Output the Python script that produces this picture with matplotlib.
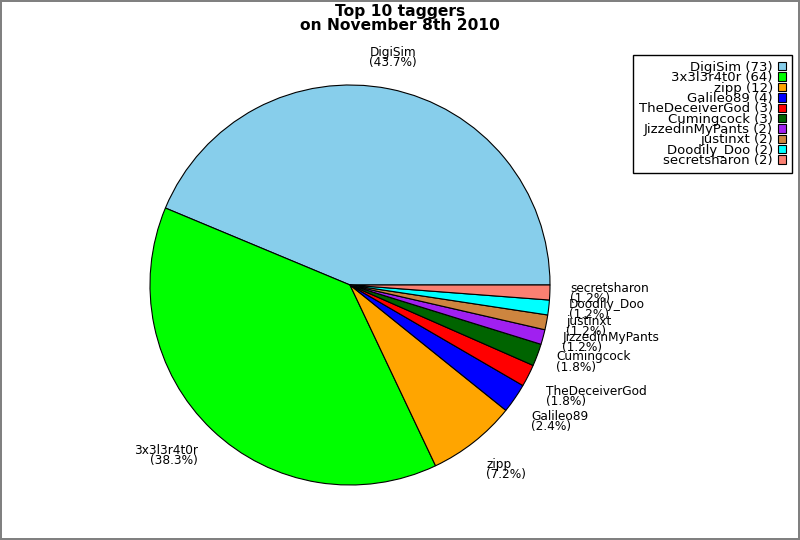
import numpy as np
import matplotlib
matplotlib.use("Agg")
import matplotlib.pyplot as plt

# data
names = ["DigiSim", "3x3l3r4t0r", "zipp", "Galileo89", "TheDeceiverGod",
         "Cumingcock", "JizzedinMyPants", "justinxt", "Doodily_Doo", "secretsharon"]
counts = [73, 64, 12, 4, 3, 3, 2, 2, 2, 2]
colours = ["#87ceeb", "#00ff00", "#ffa500", "#0000ff", "#ff0000",
           "#006400", "#a020f0", "#cd853f", "#00ffff", "#fa8072"]

total = float(sum(counts))

fig = plt.figure(figsize=(8, 5.4), dpi=100)
fig.patch.set_edgecolor("#808080")
fig.patch.set_linewidth(1.5)
ax = fig.add_axes([0, 0, 1, 1])

# pixel-like coordinates, y up
cx, cy, r = 350, 540 - 285, 200
wedges, _ = ax.pie(
    counts,
    colors=colours,
    startangle=0,
    counterclock=True,
    center=(cx, cy),
    radius=r,
    wedgeprops=dict(edgecolor="black", linewidth=0.8),
)
ax.set_xlim(0, 800)
ax.set_ylim(0, 540)
ax.set_aspect("equal")
ax.axis("off")

#
# Slice labels
#
for w, name, n in zip(wedges, names, counts):
    theta = np.deg2rad((w.theta1 + w.theta2) / 2)
    c, s = np.cos(theta), np.sin(theta)
    x = cx + 1.1 * r * c
    y = cy + 1.1 * r * s
    if c > 0.3:
        ha = "left"
    elif c < -0.3:
        ha = "right"
    else:
        ha = "center"
    if s > 0.42:
        va = "bottom"
    elif s < -0.42:
        va = "top"
    else:
        va = "center"
    ax.text(x, y, f"{name}\n({n / total * 100:.1f}%)", ha=ha, va=va,
            multialignment=ha, fontsize=8.7, linespacing=0.72)

fig.text(0.5, 1 - 4 / 540, "Top 10 taggers\non November 8th 2010",
         ha="center", va="top", fontsize=11.2, fontweight="bold", linespacing=0.95)

leg = ax.legend(
    wedges,
    [f"{name} ({n})" for name, n in zip(names, counts)],
    loc="upper right",
    bbox_to_anchor=(792 / 800, 1 - 55 / 540),
    bbox_transform=fig.transFigure,
    borderaxespad=0,
    markerfirst=False,
    fontsize=9.5,
    handlelength=0.6,
    handleheight=0.6,
    handletextpad=0.4,
    labelspacing=-0.2,
    borderpad=0.45,
    fancybox=False,
    framealpha=1,
    edgecolor="black",
)
leg.get_frame().set_linewidth(1.0)

fig.savefig("out.png", dpi=100)
